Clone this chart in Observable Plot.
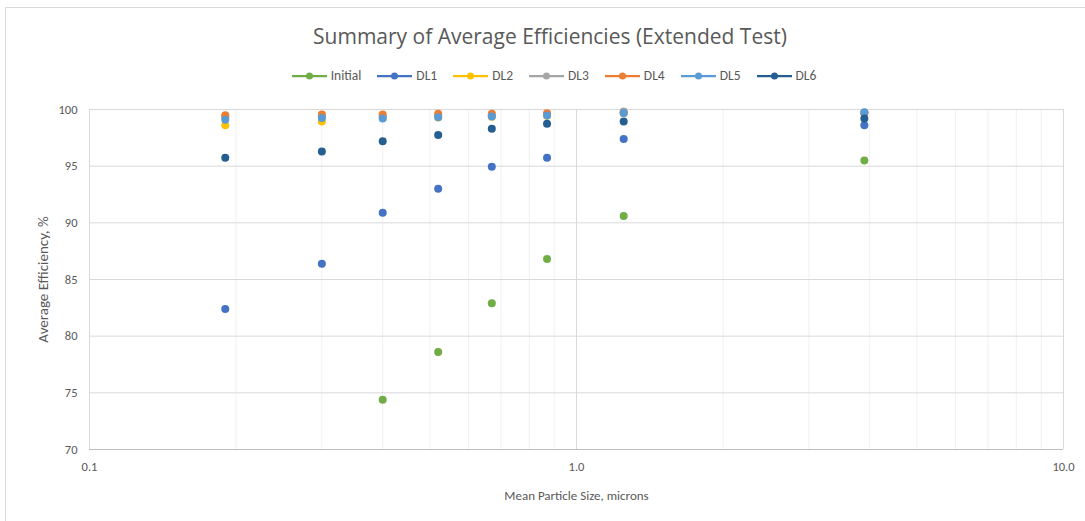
<!DOCTYPE html>
<html>
<head>
<meta charset="utf-8">
<script src="https://cdn.jsdelivr.net/npm/d3@7"></script>
<script src="https://cdn.jsdelivr.net/npm/@observablehq/plot@0.6"></script>
<style>
  html, body { margin: 0; padding: 0; background: #fff; overflow: hidden; }
  body { width: 1085px; height: 521px; position: relative; font-family: Calibri, Carlito, Lato, "Open Sans", sans-serif; }
  #frame { position: absolute; left: 5px; top: 7px; width: 1100px; height: 540px; border: 1px solid #d9d9d9; box-sizing: border-box; }
  #title { position: absolute; left: 0; top: 22px; width: 1100px; text-align: center; font-family: "Open Sans", sans-serif; font-size: 21px; color: #595959; }
  #legend { position: absolute; left: 0; top: 67px; width: 1108px; display: flex; justify-content: center; align-items: center; font-size: 13.5px; color: #595959; }
  .item { display: flex; align-items: center; margin: 0 8px; }
  .item svg { margin-right: 4px; }
  #plot { position: absolute; left: 0; top: 95px; }
  #plot svg g[aria-label="y-axis label"] text { font-size: 15px; }
  #plot svg g[aria-label="x-axis label"] text { font-size: 13px; }
</style>
</head>
<body>
<div id="frame"></div>
<div id="title">Summary of Average Efficiencies (Extended Test)</div>
<div id="legend"></div>
<div id="plot"></div>
<script>
// Mean particle size of each test band, microns
const sizes = [0.19, 0.3, 0.4, 0.52, 0.67, 0.87, 1.25, 3.9];

// Average efficiency (%) per dust-load stage
const initial = [null, null, 74.4, 78.6, 82.9, 86.8, 90.6, 95.5];
const dl1 = [82.4, 86.4, 90.9, 93.0, 94.95, 95.75, 97.4, 98.6];
const dl2 = [98.6, 98.95, 99.25, 99.3, 99.35, 99.45, 99.7, 99.7];
const dl3 = [99.3, 99.4, 99.4, 99.5, 99.5, 99.6, 99.82, 99.7];
const dl4 = [99.5, 99.55, 99.55, 99.62, 99.62, 99.67, 99.7, 99.72];
const dl5 = [99.1, 99.25, 99.2, 99.32, 99.38, 99.47, 99.7, 99.75];
const dl6 = [95.75, 96.3, 97.2, 97.75, 98.3, 98.75, 98.95, 99.2];

const seriesNames = ["Initial", "DL1", "DL2", "DL3", "DL4", "DL5", "DL6"];
const seriesColors = ["#70AD47", "#4472C4", "#FFC000", "#A5A5A5", "#ED7D31", "#5B9BD5", "#255E91"];
const seriesValues = [initial, dl1, dl2, dl3, dl4, dl5, dl6];

// Axis ticks
const xTickLabels = [0.1, 1, 10];
const xMinorGrid = [0.2, 0.3, 0.4, 0.5, 0.6, 0.7, 0.8, 0.9, 2, 3, 4, 5, 6, 7, 8, 9];
const yTicks = [70, 75, 80, 85, 90, 95, 100];

// Long-format table for the dot mark
const points = [];
seriesNames.forEach((name, i) => {
  seriesValues[i].forEach((v, j) => {
    if (v != null) points.push({series: name, size: sizes[j], eff: v});
  });
});

const chart = Plot.plot({
  width: 1085,
  height: 420,
  marginLeft: 89,
  marginRight: 22,
  marginTop: 14,
  marginBottom: 66,
  style: {fontFamily: "Calibri, Carlito, Lato, 'Open Sans', sans-serif", fontSize: "12.5px", color: "#595959", background: "transparent"},
  x: {type: "log", domain: [0.1, 10]},
  y: {domain: [70, 100]},
  color: {domain: seriesNames, range: seriesColors},
  marks: [
    Plot.ruleX(xMinorGrid, {stroke: "#f0f0f0", strokeWidth: 1}),
    Plot.ruleX([0.1, 1, 10], {stroke: "#d9d9d9", strokeWidth: 1}),
    Plot.ruleY(yTicks.filter(d => d > 70), {stroke: "#d9d9d9", strokeWidth: 1}),
    Plot.ruleY([70], {stroke: "#bfbfbf", strokeWidth: 1}),
    Plot.axisY({ticks: yTicks, tickSize: 0, tickPadding: 12, label: "Average Efficiency, %", labelAnchor: "center", labelArrow: "none", labelOffset: 52, fill: "#595959"}),
    Plot.axisX({ticks: xTickLabels, tickFormat: d => d.toFixed(1), tickSize: 0, tickPadding: 13, label: "Mean Particle Size, microns", labelAnchor: "center", labelArrow: "none", labelOffset: 50, fill: "#595959"}),
    Plot.dot(points, {x: "size", y: "eff", fill: "series", r: 4, stroke: null})
  ]
});
document.getElementById("plot").appendChild(chart);

// Legend: a short line with a marker, then the series name
const legend = d3.select("#legend");
seriesNames.forEach((name, i) => {
  const item = legend.append("div").attr("class", "item");
  const s = item.append("svg").attr("width", 35).attr("height", 10);
  s.append("line").attr("x1", 0).attr("x2", 35).attr("y1", 5).attr("y2", 5)
    .attr("stroke", seriesColors[i]).attr("stroke-width", 2.25);
  s.append("circle").attr("cx", 17.5).attr("cy", 5).attr("r", 3.5).attr("fill", seriesColors[i]);
  item.append("span").text(name);
});
</script>
</body>
</html>
